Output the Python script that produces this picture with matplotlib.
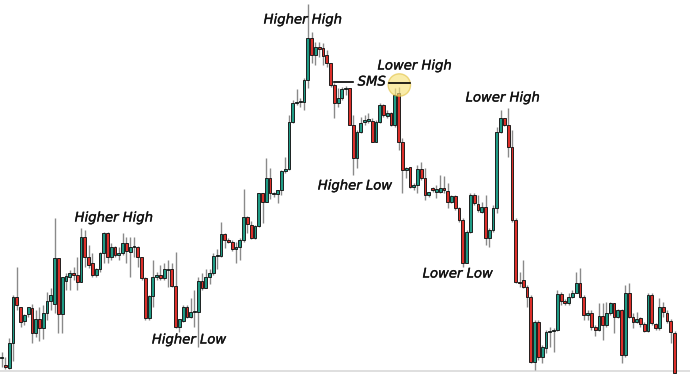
import matplotlib
matplotlib.use("Agg")
import matplotlib.pyplot as plt
import matplotlib.patheffects as pe
from matplotlib.patches import Rectangle, Ellipse

# OHLC values (price units)
opens = [16, 9, 5.7, 30.7, 76.7, 67.3, 53.3, 60, 66.3, 40.7,
         54.7, 45.7, 61.3, 73.3, 70, 115.7, 60, 93.3, 97.3, 100.7,
         99, 92.3, 136.7, 117.3, 110.7, 99, 104.7, 120.7, 140.7, 117.3,
         126.7, 119, 120.7, 131.3, 122.3, 126.7, 127.3, 117.3, 95.7, 55.7,
         78, 96.7, 99, 95.7, 104, 104.7, 88, 47.3, 53.3, 67.3,
         57.3, 62.3, 62.3, 93.3, 85.7, 96.7, 100.7, 118, 118, 139.7,
         134, 132.3, 124.7, 126.7, 134, 157.3, 149, 135.7, 148.3, 180.7,
         172.3, 196.3, 180, 179.7, 184, 203.3, 205, 251.7, 270.7, 271.7,
         272.3, 294, 335.7, 319, 327.3, 325.7, 319, 310.7, 289, 271.3,
         276.3, 284.7, 285.7, 249, 215.7, 242.3, 252.3, 253.3, 253.3, 232.3,
         252.3, 269, 258, 260.7, 249, 280.7, 232.3, 204, 206.7, 187.3,
         189, 205, 195.7, 179, 185.7, 182.3, 182.3, 185.7, 183.3, 172.3,
         178, 165.7, 154, 110.7, 142.3, 179, 170, 162.3, 167.3, 135.7,
         144, 165.7, 242.3, 255.7, 249, 227.3, 154, 92.3, 94, 87.3,
         77.3, 12.3, 52.3, 17.3, 25.7, 42.3, 43.3, 44, 80, 73.3,
         70.7, 76.7, 81.3, 90.7, 76.7, 59, 61.3, 47.3, 44, 58,
         49, 60.7, 70.7, 57.3, 64, 19, 80.7, 56.7, 52.3, 55.7,
         50, 43.3, 79, 50, 45.7, 67.3, 61.3, 53.3, 40.7]
highs = [22, 17.3, 35.7, 79, 106.7, 67.3, 60, 67.3, 70, 64,
         67.3, 69, 82.3, 85.7, 155.7, 115.7, 97.3, 100.7, 104, 107.3,
         117.3, 145.7, 144, 129, 120.7, 105.7, 122.3, 142.3, 142.3, 130.7,
         128, 127.3, 140.7, 137.3, 137.3, 137.3, 128, 117.3, 97.3, 79,
         114, 102.3, 109, 111.3, 114, 110.7, 122.3, 54.7, 69, 69,
         75.7, 84, 97.3, 101.3, 104.7, 104.7, 121.3, 124.7, 151.7, 141.3,
         135.7, 134, 132.3, 135.7, 184.7, 158, 153.3, 149, 181.3, 180.7,
         216.3, 206.3, 182.3, 184, 204, 217.3, 259, 274, 284.7, 276,
         295.7, 370, 342.3, 332.3, 332.3, 330.7, 324, 311.3, 290.7, 285.7,
         287.3, 288, 285.7, 259, 244, 257.3, 259, 260.7, 255.7, 254,
         270.7, 270, 264, 262.3, 285.7, 287.3, 236, 207.3, 207.3, 191,
         209, 212.3, 205.7, 182.3, 187.3, 189, 199, 198, 190.7, 179,
         179, 167.3, 155.7, 144, 180.7, 180.7, 179, 172.3, 179, 145.7,
         169, 247.3, 264, 255.7, 265.7, 244, 155.7, 102.3, 114, 89,
         79, 54, 54, 29, 44, 47.3, 45.7, 84, 82.3, 74.7,
         80.7, 84, 102.3, 105.7, 79, 64, 64, 49, 71.3, 71.3,
         72.3, 72.3, 71.3, 64.7, 64.7, 89, 91.3, 60.7, 62.3, 57.3,
         52.3, 80.7, 80.7, 50.7, 75.7, 72.3, 64, 54.7, 43]
lows = [7, 4.7, 4.7, 13.3, 64, 47.3, 49, 57.3, 30.7, 37.3,
        33.3, 34.7, 54, 64, 60.7, 40.7, 40.7, 84, 84, 94,
        84, 92.3, 107.3, 105.7, 97.3, 97.3, 102.3, 110.7, 110.7, 114,
        117.3, 114, 119, 110.7, 97.3, 117.3, 107.3, 94, 54, 54,
        67.3, 94, 94, 94, 87.3, 87.3, 45.7, 42.3, 52.3, 55.7,
        55.7, 47.3, 27, 84, 85.7, 90, 99, 104.7, 117.3, 125.7,
        130.7, 123.3, 110.7, 114, 132.3, 140.7, 135, 135, 147.3, 150.7,
        172.3, 174.7, 177.3, 171.3, 179, 201.3, 204, 250.7, 269, 267.3,
        264, 285.7, 310.7, 309, 317.3, 309, 307.3, 287.3, 255.7, 267.3,
        274, 279, 249, 199, 205.7, 240.7, 249, 250.7, 232.3, 232.3,
        250.7, 257.3, 255.7, 248, 247.3, 224, 181, 196, 185.7, 184,
        181, 194, 174, 177.3, 182.3, 175.7, 180.7, 180.7, 165.7, 170.7,
        164, 152.3, 107.3, 110.7, 140.7, 169, 162.3, 160.7, 129, 127.3,
        142.3, 160.7, 240.7, 248, 217.3, 152.3, 90.7, 87.3, 85.7, 67.3,
        10.7, 4, 14, 10.7, 20.7, 27.3, 22.3, 43.3, 69, 69,
        69, 75.7, 80.7, 75.7, 54, 54, 44, 38, 43.3, 34,
        47.3, 59, 40.7, 55.7, 10.7, 17.3, 55.7, 45.7, 50.7, 47.3,
        42.3, 42.3, 49, 44, 44, 57.3, 50.7, 30.7, 1]
closes = [17, 6.7, 30.7, 76.7, 69, 52.3, 59, 66.7, 40.7, 55,
          45.7, 61.3, 73.3, 79, 115.7, 60, 97.3, 98, 100.7, 99.3,
          92.3, 136.7, 117.3, 109, 99, 104.7, 120.7, 140.7, 117.3, 127.3,
          119, 121.3, 131.3, 123.3, 126.7, 128, 117.3, 95.7, 55.7, 78,
          96.7, 99, 95.7, 104.7, 104.7, 88, 47.3, 54.7, 67.3, 57.3,
          62.3, 63.3, 93.3, 85.7, 96.7, 100.7, 118, 118, 139.7, 134,
          132.3, 124.7, 126.7, 134, 157.3, 150, 135.7, 148.3, 180.7, 172.3,
          196.3, 180.7, 180.7, 184, 203.3, 205, 251.7, 270.7, 271.7, 272.3,
          294, 335.7, 319, 327.3, 324.7, 318, 310.7, 289, 271.3, 276.3,
          284.7, 286.3, 249, 215.7, 242.3, 250.7, 254, 254.7, 232.3, 252.3,
          269, 259, 260.7, 249, 279, 232.3, 204, 205.7, 187.3, 189,
          205, 195.7, 179, 182.3, 184, 184.7, 185.7, 184, 172.3, 178,
          165.7, 154, 110.7, 142.3, 179, 170.7, 164, 167.3, 135.7, 144,
          165.7, 242.3, 255.7, 249, 227.3, 154, 92.3, 91.3, 87.3, 77.3,
          12.3, 52.3, 17.3, 27.3, 42.3, 43.3, 44, 80, 73.3, 70.7,
          76.7, 81.3, 90.7, 76.7, 59, 61.3, 46.7, 44, 58, 49,
          60.7, 70.7, 57.3, 64, 19, 80.7, 57.3, 52.3, 54.7, 50,
          43.3, 79, 50.7, 45.7, 67.3, 62.3, 53.3, 42.3, 1]

labels = ["Higher High", "Higher Low", "Higher High", "Higher Low",
          "Lower High", "Lower Low", "Lower High"]
label_pos = [(29.7, 156), (49.6, 34), (79.7, 354), (93.5, 188),
             (109.3, 308), (120.7, 100), (132.6, 276)]

GREEN = "#1f9c86"
RED = "#dc2f2a"
WICK = "#8a8a8a"
EDGE = "#151515"

fig = plt.figure(figsize=(6.9, 3.74), dpi=100)
ax = fig.add_axes([0, 0, 1, 1])
ax.set_xlim(-0.45, 182.1)
ax.set_ylim(0, 374)
ax.axis("off")

ax.axhline(3.5, color="#d9d9d9", lw=1.2, zorder=0)

w = 0.74
for i, (o, h, l, c) in enumerate(zip(opens, highs, lows, closes)):
    ax.plot([i, i], [l, h], color=WICK, lw=1.0, zorder=1, solid_capstyle="butt")
    col = GREEN if c >= o else RED
    bot = min(o, c)
    ht = max(abs(c - o), 1.2)
    ax.add_patch(Rectangle((i - w / 2, bot), w, ht, facecolor=col,
                           edgecolor=EDGE, lw=0.65, zorder=2))

thick = [pe.withStroke(linewidth=0.25, foreground="#111111")]
for txt, (x, y) in zip(labels, label_pos):
    ax.text(x, y, txt, ha="center", va="center", fontsize=9.5,
            style="italic", color="#111111", zorder=5, path_effects=thick)

# SMS marker
ax.plot([87.9, 92.9], [291.7, 291.7], color="black", lw=1.2, zorder=4)
ax.text(97.9, 292, "SMS", ha="center", va="center", fontsize=9.5,
        style="italic", color="#111111", zorder=5, path_effects=thick)
ax.add_patch(Ellipse((105.2, 289), 22.4 / 3.78, 22.4, facecolor="#f7e27c",
                     edgecolor="#e3c44a", lw=1.0, alpha=0.65, zorder=3))
ax.plot([102.5, 108.0], [291.3, 291.3], color="black", lw=1.2, zorder=4)

fig.savefig("out.png", dpi=100)
